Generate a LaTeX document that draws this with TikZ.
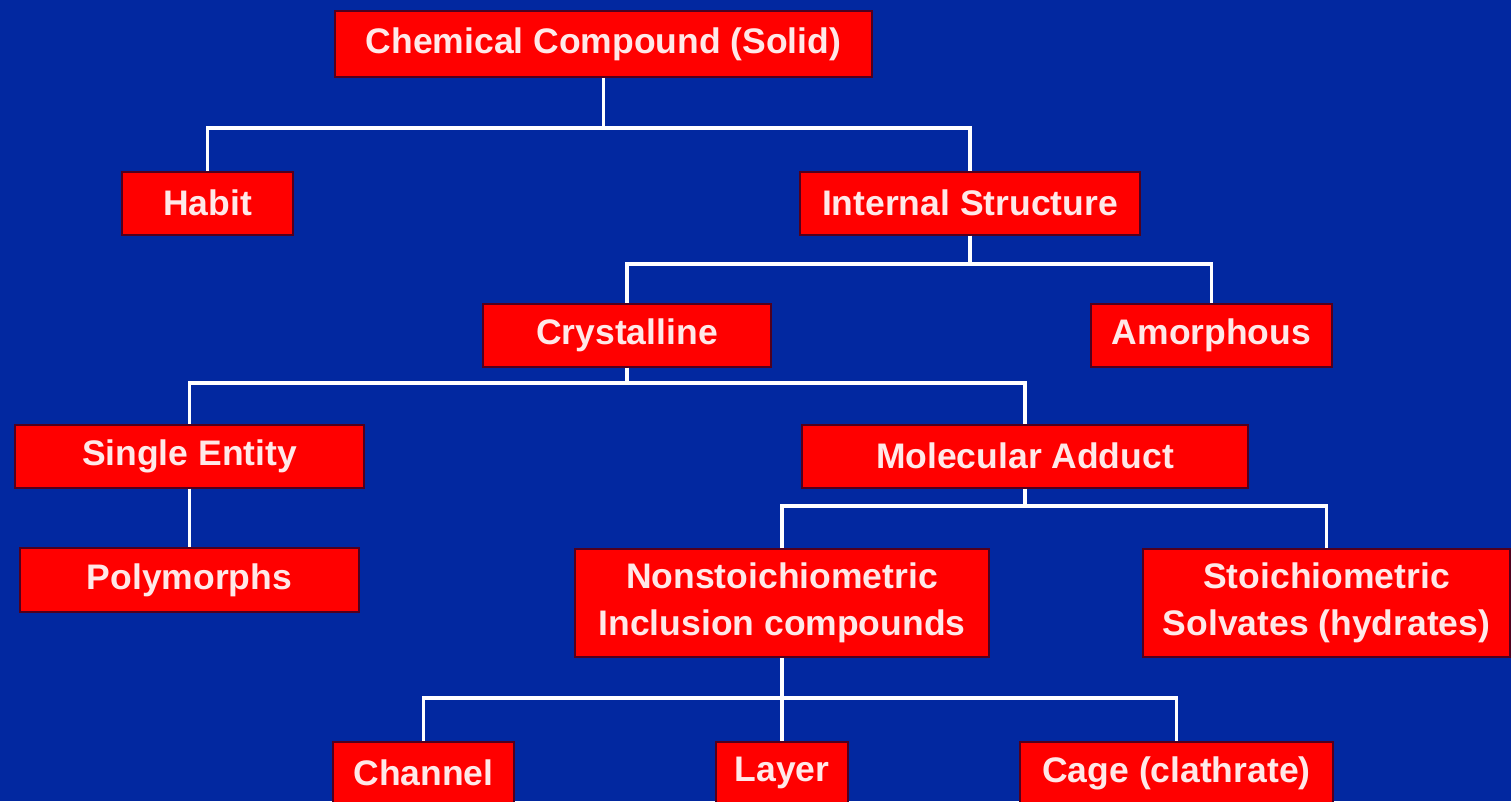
\documentclass[tikz,border=0pt]{standalone}
\usepackage{fontspec}
\setmainfont{Liberation Sans}
\definecolor{bgblue}{RGB}{2,40,160}
\definecolor{boxred}{RGB}{255,0,0}
\definecolor{boxedge}{RGB}{80,0,30}
\definecolor{txt}{RGB}{255,232,232}
\begin{document}
\begin{tikzpicture}[x=1pt,y=-1pt,
  box/.style={draw=boxedge, line width=2pt, fill=boxred, text=txt, inner sep=0pt,
    font=\fontsize{35.5}{47}\selectfont\bfseries, align=center, minimum height=63pt},
  link/.style={draw=white, line width=3.5pt}]
\fill[bgblue] (0,0) rectangle (1511,801);
\useasboundingbox (0,0) rectangle (1511,801);
\node[box, minimum width=537pt, minimum height=66pt] (cc) at (603.5,44) {Chemical Compound (Solid)};
\node[box, minimum width=171pt] (habit) at (207.5,203) {Habit};
\node[box, minimum width=340pt] (internal) at (970,203) {Internal Structure};
\node[box, minimum width=288pt] (cryst) at (627,335) {Crystalline};
\node[box, minimum width=241pt] (amorph) at (1211.5,335) {Amorphous};
\node[box, minimum width=349pt] (single) at (189.5,456) {Single Entity};
\node[box, minimum width=446pt] (moladd) at (1025,456) {Molecular Adduct};
\node[box, minimum width=339pt, minimum height=64pt] (poly) at (189.5,580) {Polymorphs};
\node[box, minimum width=414pt, minimum height=108pt] (nonst) at (782,603) {Nonstoichiometric\\Inclusion compounds};
\node[box, minimum width=367pt, minimum height=108pt] (stoich) at (1326.5,603) {Stoichiometric\\Solvates (hydrates)};
\node[box, minimum width=181pt] (channel) at (423.5,773) {Channel};
\node[box, minimum width=132pt] (layer) at (782,773) {Layer};
\node[box, minimum width=313pt] (cage) at (1176.5,773) {Cage (clathrate)};
\coordinate (j1) at (603.5,128);
\coordinate (j2) at (970,264);
\coordinate (j3) at (627,383);
\coordinate (j4) at (1025,506);
\coordinate (j5) at (782,698);
\draw[link] (cc.south) -- (j1);
\draw[link] (habit.north) |- (j1) -| (internal.north);
\draw[link] (internal.south) -- (j2);
\draw[link] (cryst.north) |- (j2) -| (amorph.north);
\draw[link] (cryst.south) -- (j3);
\draw[link] (single.north) |- (j3) -| (moladd.north);
\draw[link] (single.south) -- (poly.north);
\draw[link] (moladd.south) -- (j4);
\draw[link] (nonst.north) |- (j4) -| (stoich.north);
\draw[link] (nonst.south) -- (j5);
\draw[link] (channel.north) |- (j5) -| (cage.north);
\draw[link] (j5) -- (layer.north);
\end{tikzpicture}
\end{document}
